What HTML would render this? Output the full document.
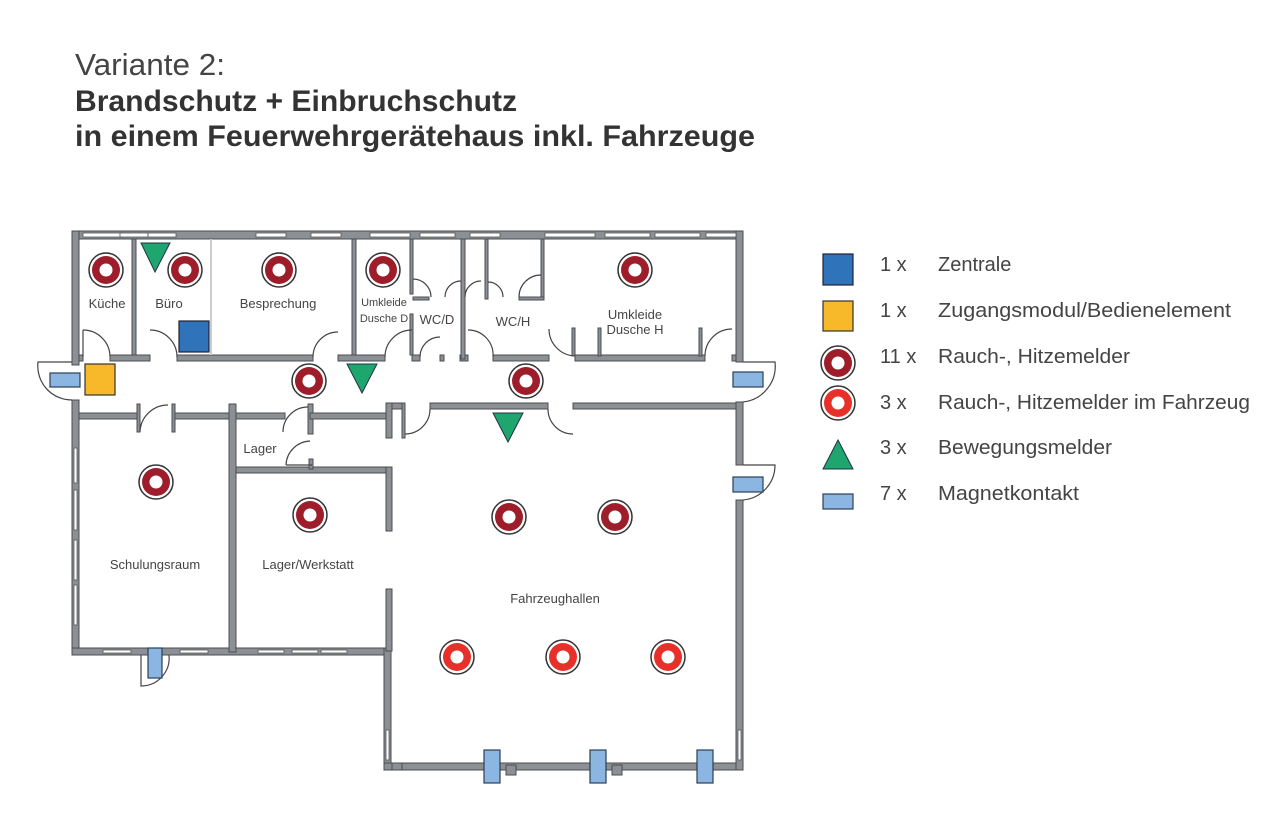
<!DOCTYPE html>
<html><head><meta charset="utf-8"><style>
html,body{margin:0;padding:0;background:#fff;}
svg{display:block;font-family:"Liberation Sans",sans-serif;}
</style></head><body>
<svg width="1286" height="813" viewBox="0 0 1286 813" xmlns="http://www.w3.org/2000/svg">
<defs>
<g id="sd"><circle r="17" fill="#fff" stroke="#333" stroke-width="1.5"/><circle r="14" fill="#9e1d2b"/><circle r="6.5" fill="#fff"/></g>
<g id="sf"><circle r="17" fill="#fff" stroke="#333" stroke-width="1.5"/><circle r="14" fill="#e8302a"/><circle r="6.5" fill="#fff"/></g>
</defs>
<text x="75" y="75" font-size="31" fill="#444" textLength="150" lengthAdjust="spacingAndGlyphs">Variante 2:</text>
<text x="75" y="111" font-size="30" fill="#333" font-weight="bold" textLength="442" lengthAdjust="spacingAndGlyphs">Brandschutz + Einbruchschutz</text>
<text x="75" y="146" font-size="30" fill="#333" font-weight="bold" textLength="680" lengthAdjust="spacingAndGlyphs">in einem Feuerwehrgerätehaus inkl. Fahrzeuge</text>

<g fill="#8c8f93" stroke="#4a4d52" stroke-width="1">
<rect x="72" y="231" width="670" height="8"/>
<rect x="72" y="231" width="7" height="134"/>
<rect x="72" y="400" width="7" height="255"/>
<rect x="72" y="648" width="316" height="7"/>
<rect x="384" y="648" width="7" height="122"/>
<rect x="384" y="763" width="358" height="7"/>
<rect x="736" y="231" width="7" height="131"/>
<rect x="736" y="402" width="7" height="63"/>
<rect x="736" y="500" width="7" height="270"/>
<rect x="79" y="355" width="4" height="6"/>
<rect x="110" y="355" width="40" height="6"/>
<rect x="177" y="355" width="136" height="6"/>
<rect x="338" y="355" width="47" height="6"/>
<rect x="412" y="355" width="8" height="6"/>
<rect x="440" y="355" width="4" height="6"/>
<rect x="460" y="355" width="8" height="6"/>
<rect x="493" y="355" width="56" height="6"/>
<rect x="575" y="355" width="130" height="6"/>
<rect x="732" y="355" width="4" height="6"/>
<rect x="132" y="239" width="4" height="116"/>
<rect x="352" y="239" width="4" height="116"/>
<rect x="410" y="239" width="3" height="55"/>
<rect x="410" y="314" width="3" height="41"/>
<rect x="461" y="239" width="4" height="120"/>
<rect x="485" y="239" width="3" height="60"/>
<rect x="541" y="239" width="3" height="60"/>
<rect x="413" y="297" width="16" height="3"/>
<rect x="519" y="297" width="25" height="3"/>
<rect x="572" y="328" width="3" height="28"/>
<rect x="598" y="328" width="3" height="28"/>
<rect x="699" y="328" width="3" height="28"/>
<rect x="79" y="413" width="60" height="6"/>
<rect x="137" y="404" width="3" height="28"/>
<rect x="172" y="404" width="3" height="28"/>
<rect x="175" y="413" width="110" height="6"/>
<rect x="229" y="404" width="7" height="248"/>
<rect x="308" y="404" width="5" height="30"/>
<rect x="310" y="413" width="80" height="6"/>
<rect x="386" y="403" width="6" height="35"/>
<rect x="392" y="403" width="12" height="6"/>
<rect x="402" y="403" width="3" height="35"/>
<rect x="430" y="403" width="118" height="6"/>
<rect x="573" y="403" width="163" height="6"/>
<rect x="236" y="467" width="154" height="6"/>
<rect x="386" y="467" width="6" height="64"/>
<rect x="386" y="589" width="6" height="62"/>
<rect x="309" y="459" width="4" height="10"/>
<rect x="392" y="763" width="10" height="7"/>
<rect x="506" y="765" width="10" height="10"/>
<rect x="612" y="765" width="10" height="10"/>
</g>
<g fill="#fff" stroke="#555" stroke-width="0.8">
<rect x="83" y="233" width="40" height="4"/><rect x="120" y="233" width="28" height="4"/>
<rect x="148" y="233" width="28" height="4"/>
<rect x="256" y="233" width="30" height="4"/><rect x="311" y="233" width="30" height="4"/>
<rect x="370" y="233" width="40" height="4"/><rect x="420" y="233" width="35" height="4"/>
<rect x="470" y="233" width="30" height="4"/><rect x="545" y="233" width="50" height="4"/>
<rect x="605" y="233" width="45" height="4"/><rect x="655" y="233" width="45" height="4"/>
<rect x="706" y="233" width="30" height="4"/>
<rect x="74" y="448" width="3" height="35"/><rect x="74" y="490" width="3" height="40"/>
<rect x="74" y="540" width="3" height="40"/><rect x="74" y="585" width="3" height="40"/>
<rect x="103" y="650" width="28" height="3"/><rect x="180" y="650" width="28" height="3"/>
<rect x="258" y="650" width="26" height="3"/><rect x="292" y="650" width="26" height="3"/>
<rect x="321" y="650" width="26" height="3"/>
<rect x="386" y="730" width="3" height="30"/><rect x="738" y="730" width="3" height="30"/>
</g>
<rect x="210" y="239" width="2" height="116" fill="#ccc"/>
<g fill="none" stroke="#444" stroke-width="1.2">
<path d="M83 330 A27 27 0 0 1 110 357"/><path d="M83 330 V357"/>
<path d="M150 330 A27 27 0 0 1 177 357"/>
<path d="M313 357 A25 25 0 0 1 338 332"/>
<path d="M385 357 A27 27 0 0 1 412 330"/>
<path d="M420 357 A20 20 0 0 1 440 337"/>
<path d="M468 330 A25 25 0 0 1 493 357"/>
<path d="M413 279 A18 18 0 0 1 431 297"/>
<path d="M445 297 A16 16 0 0 1 461 281"/><path d="M465 297 A16 16 0 0 1 481 281"/>
<path d="M488 282 A15 15 0 0 1 503 297"/><path d="M519 297 A22 22 0 0 1 541 275"/>
<path d="M549 329 A27 27 0 0 0 575 356"/>
<path d="M705 356 A27 27 0 0 1 732 329"/>
<path d="M140 432 A28 28 0 0 1 168 405"/>
<path d="M283 432 A25 25 0 0 1 308 407"/>
<path d="M286 465 A25 25 0 0 1 310 441"/><path d="M286 465 H312"/>
<path d="M405 434 A25 25 0 0 0 430 409"/>
<path d="M548 409 A25 25 0 0 0 573 434"/>
<path d="M72 362 H38 A34 34 0 0 0 72 400"/>
<path d="M743 362 H775 A36 36 0 0 1 743 402"/>
<path d="M743 465 H775 A35 35 0 0 1 743 500"/>
<path d="M141 655 V686 A28 28 0 0 0 169 655"/>
</g>
<g font-size="13" fill="#444" text-anchor="middle">
<text x="107" y="308">Küche</text>
<text x="169" y="308">Büro</text>
<text x="278" y="308">Besprechung</text>
<text x="384" y="306" font-size="11">Umkleide</text>
<text x="384" y="322" font-size="11">Dusche D</text>
<text x="437" y="324">WC/D</text>
<text x="513" y="326">WC/H</text>
<text x="635" y="319">Umkleide</text>
<text x="635" y="334">Dusche H</text>
<text x="260" y="453">Lager</text>
<text x="155" y="569">Schulungsraum</text>
<text x="308" y="569">Lager/Werkstatt</text>
<text x="555" y="603">Fahrzeughallen</text>
</g>
<use href="#sd" x="106" y="270"/><use href="#sd" x="185" y="270"/><use href="#sd" x="279" y="270"/>
<use href="#sd" x="383" y="270"/><use href="#sd" x="635" y="270"/><use href="#sd" x="309" y="381"/>
<use href="#sd" x="526" y="381"/><use href="#sd" x="156" y="482"/><use href="#sd" x="310" y="515"/>
<use href="#sd" x="509" y="517"/><use href="#sd" x="615" y="517"/>
<use href="#sf" x="457" y="657"/><use href="#sf" x="563" y="657"/><use href="#sf" x="668" y="657"/>
<g fill="#1fa56e" stroke="#234" stroke-width="1">
<path d="M141 243 H170 L155 272 Z"/><path d="M347 364 H377 L362 393 Z"/><path d="M493 413 H523 L508 442 Z"/>
</g>
<rect x="179" y="321" width="30" height="31" fill="#2f74bb" stroke="#223" stroke-width="1.2"/>
<rect x="85" y="364" width="30" height="31" fill="#f7b82a" stroke="#333" stroke-width="1.2"/>
<g fill="#8cb6e2" stroke="#2d3e55" stroke-width="1.2">
<rect x="50" y="373" width="30" height="14"/><rect x="733" y="372" width="30" height="15"/>
<rect x="733" y="477" width="30" height="15"/><rect x="148" y="648" width="14" height="30"/>
<rect x="484" y="750" width="16" height="33"/><rect x="590" y="750" width="16" height="33"/>
<rect x="697" y="750" width="16" height="33"/>
</g>
<rect x="823" y="254" width="30" height="31" fill="#2f74bb" stroke="#223" stroke-width="1.2"/>
<rect x="823" y="301" width="30" height="30" fill="#f7b82a" stroke="#333" stroke-width="1.2"/>
<use href="#sd" x="838" y="363"/>
<use href="#sf" x="838" y="403"/>
<path d="M823 469 H853 L838 440 Z" fill="#1fa56e" stroke="#234" stroke-width="1"/>
<rect x="823" y="494" width="30" height="15" fill="#8cb6e2" stroke="#2d3e55" stroke-width="1.2"/>
<g font-size="20" fill="#444">
<text x="880" y="271">1 x</text><text x="938" y="271">Zentrale</text>
<text x="880" y="317">1 x</text><text x="938" y="317" textLength="293" lengthAdjust="spacingAndGlyphs">Zugangsmodul/Bedienelement</text>
<text x="880" y="363">11 x</text><text x="938" y="363" textLength="192" lengthAdjust="spacingAndGlyphs">Rauch-, Hitzemelder</text>
<text x="880" y="409">3 x</text><text x="938" y="409" textLength="312" lengthAdjust="spacingAndGlyphs">Rauch-, Hitzemelder im Fahrzeug</text>
<text x="880" y="454">3 x</text><text x="938" y="454" textLength="174" lengthAdjust="spacingAndGlyphs">Bewegungsmelder</text>
<text x="880" y="500">7 x</text><text x="938" y="500" textLength="141" lengthAdjust="spacingAndGlyphs">Magnetkontakt</text>
</g>
</svg>
</body></html>
